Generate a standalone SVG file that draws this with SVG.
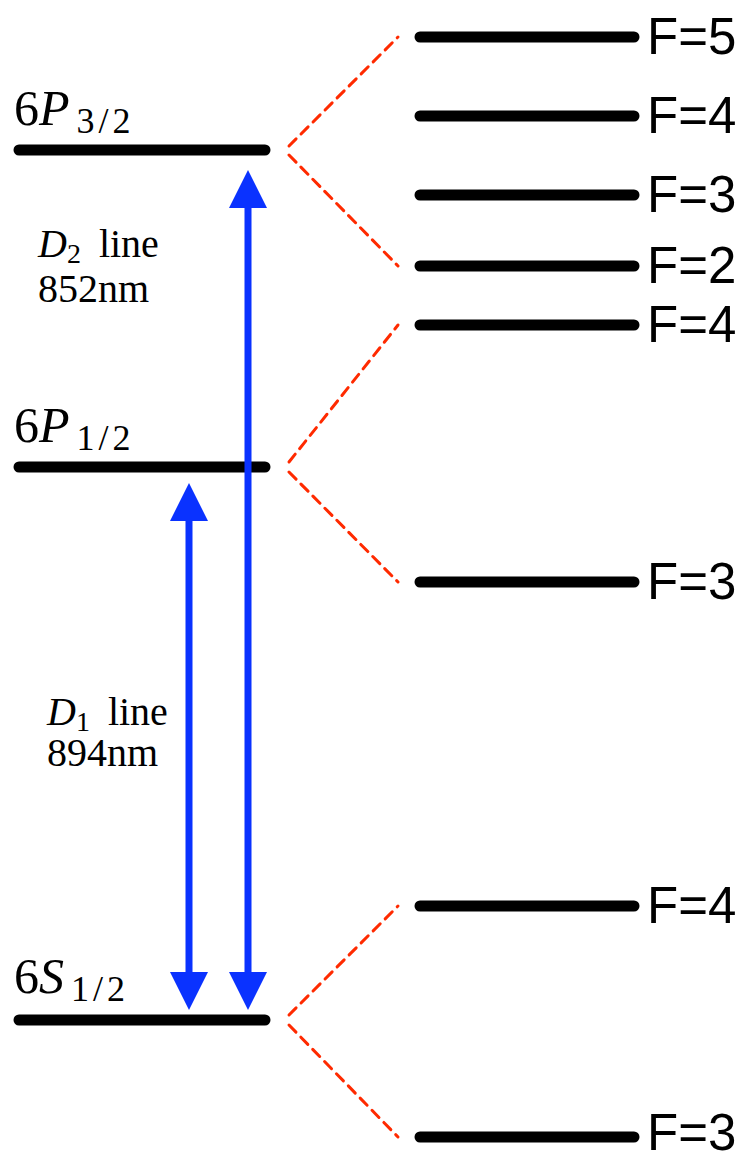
<svg xmlns="http://www.w3.org/2000/svg" width="746" height="1157" viewBox="0 0 746 1157">
<style>
.lvl{stroke:#000;stroke-width:11;stroke-linecap:round;fill:none}
.dash{stroke:#ff2a00;stroke-width:3;stroke-dasharray:10 7;stroke-linecap:round;fill:none}
.arr{stroke:#0a32ff;stroke-width:7;fill:none}
.head{fill:#0a32ff}
.tex{font-family:"Liberation Serif","DejaVu Serif",serif;fill:#000}
.main{font-size:50px}
.sub{font-size:36px;letter-spacing:4px}
.lab{font-size:40px}
.f{font-family:"Liberation Sans",Arial,sans-serif;font-size:51px;fill:#000}
</style>
<rect width="746" height="1157" fill="#fff"/>
<g id="level-6P32"><line class="lvl" x1="19" y1="150" x2="265" y2="150"/><text class="tex main" x="14" y="125">6<tspan font-style="italic">P</tspan><tspan class="sub" dx="7" dy="8">3/2</tspan></text></g>
<g id="level-6P12"><line class="lvl" x1="19" y1="467" x2="265" y2="467"/><text class="tex main" x="14" y="442">6<tspan font-style="italic">P</tspan><tspan class="sub" dx="7" dy="8">1/2</tspan></text></g>
<g id="level-6S12"><line class="lvl" x1="19" y1="1020" x2="265" y2="1020"/><text class="tex main" x="14" y="993">6<tspan font-style="italic">S</tspan><tspan class="sub" dx="7" dy="8">1/2</tspan></text></g>
<g id="hf-P32-F5"><line class="lvl" x1="420" y1="37" x2="634" y2="37"/><text class="f" x="647" y="54">F=5</text></g>
<g id="hf-P32-F4"><line class="lvl" x1="420" y1="116" x2="634" y2="116"/><text class="f" x="647" y="133">F=4</text></g>
<g id="hf-P32-F3"><line class="lvl" x1="420" y1="195" x2="634" y2="195"/><text class="f" x="647" y="212">F=3</text></g>
<g id="hf-P32-F2"><line class="lvl" x1="420" y1="266" x2="634" y2="266"/><text class="f" x="647" y="283">F=2</text></g>
<g id="hf-P12-F4"><line class="lvl" x1="420" y1="325" x2="634" y2="325"/><text class="f" x="647" y="342">F=4</text></g>
<g id="hf-P12-F3"><line class="lvl" x1="420" y1="582" x2="634" y2="582"/><text class="f" x="647" y="599">F=3</text></g>
<g id="hf-S12-F4"><line class="lvl" x1="420" y1="906" x2="634" y2="906"/><text class="f" x="647" y="923">F=4</text></g>
<g id="hf-S12-F3"><line class="lvl" x1="420" y1="1137" x2="634" y2="1137"/><text class="f" x="647" y="1150">F=3</text></g>
<g id="label-D2"><text class="tex lab" x="38" y="257"><tspan font-style="italic">D</tspan><tspan font-size="28" dy="6">2</tspan><tspan dy="-6" dx="18">line</tspan></text><text class="tex lab" x="38" y="302">852nm</text></g>
<g id="label-D1"><text class="tex lab" x="47" y="725"><tspan font-style="italic">D</tspan><tspan font-size="28" dy="6">1</tspan><tspan dy="-6" dx="18">line</tspan></text><text class="tex lab" x="47" y="766">894nm</text></g>
<g id="connectors">
<line class="dash" x1="289" y1="146" x2="398" y2="37"/>
<line class="dash" x1="289" y1="155" x2="398" y2="266"/>
<line class="dash" x1="289" y1="462" x2="398" y2="325"/>
<line class="dash" x1="289" y1="472" x2="398" y2="582"/>
<line class="dash" x1="289" y1="1015" x2="398" y2="906"/>
<line class="dash" x1="289" y1="1025" x2="398" y2="1137"/>
<line class="arr" x1="248" y1="205" x2="248" y2="975"/>
<polygon class="head" points="248,170 229,208 267,208"/>
<polygon class="head" points="248,1010 229,972 267,972"/>
<line class="arr" x1="189" y1="518" x2="189" y2="975"/>
<polygon class="head" points="189,483 170,521 208,521"/>
<polygon class="head" points="189,1010 170,972 208,972"/>
</g>
</svg>
